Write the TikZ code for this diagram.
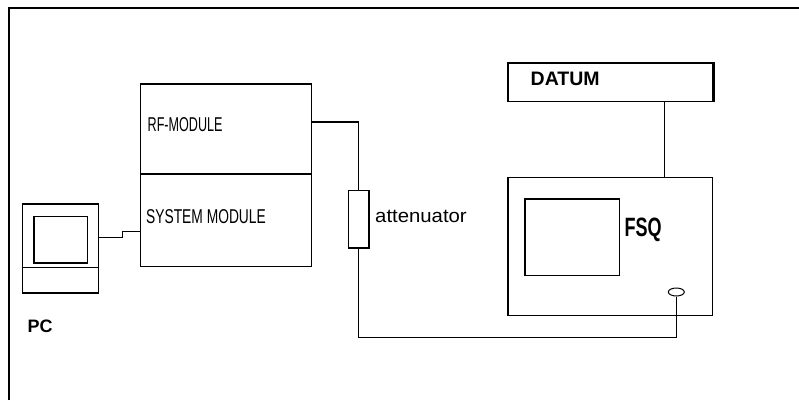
\documentclass[tikz,border=0pt]{standalone}
\usepackage{fontspec}
\setmainfont{Liberation Sans}
\usetikzlibrary{shapes.geometric}
\begin{document}
\begin{tikzpicture}[x=1pt,y=-1pt,
  line width=1.4pt,
  box/.style={draw, inner sep=0pt, anchor=north west},
  lbl/.style={inner sep=0pt, anchor=west},
  wire/.style={draw, line width=1.4pt}]
\useasboundingbox (0,0) rectangle (799,400);
% frame
\draw (9,400) -- (9,8) -- (799,8);
% PC
\node[box, minimum width=76pt, minimum height=89pt] (pc) at (21.7,203.3) {};
\node[box, minimum width=53.4pt, minimum height=46.3pt] (pcscreen) at (33.3,216) {};
\draw (pc.west |- 0,267.7) -- (pc.east |- 0,267.7);
\node[lbl] (pclbl) at (27,326.7) {\fontsize{18}{20}\selectfont\bfseries PC};
% modules
\node[box, minimum width=170.7pt, minimum height=90pt] (rf) at (140,83.3) {};
\node[box, minimum width=170.7pt, minimum height=92.4pt] (sys) at (140,173.3) {};
\node[lbl] (rflbl) at (147,124.5) {\fontsize{20}{22}\selectfont\scalebox{0.63}[1]{RF-MODULE}};
\node[lbl] (syslbl) at (145.5,216.7) {\fontsize{20}{22}\selectfont\scalebox{0.69}[1]{SYSTEM MODULE}};
% attenuator
\node[box, minimum width=20.6pt, minimum height=57.3pt] (att) at (347.7,190) {};
\node[lbl] (attlbl) at (374.5,216.7) {\fontsize{19}{21}\selectfont\scalebox{1.07}[1]{attenuator}};
% DATUM
\node[box, minimum width=204.4pt, minimum height=38.4pt] (datum) at (507.3,62.3) {};
\draw[line width=2.8pt] ([xshift=0.7pt]datum.north east) -- ([xshift=0.7pt]datum.south east);
\node[lbl] (datumlbl) at (530,79) {\fontsize{19.5}{21}\selectfont\bfseries DATUM};
% FSQ
\node[box, minimum width=204.4pt, minimum height=138.3pt] (fsq) at (507.3,176.7) {};
\node[box, minimum width=94.7pt, minimum height=76.7pt] (fsqscreen) at (524.3,198.3) {};
\node[lbl] (fsqlbl) at (624,230) {\fontsize{26.5}{28}\selectfont\bfseries\scalebox{0.68}[1]{FSQ}};
\node[draw, ellipse, line width=1pt, minimum width=16pt, minimum height=8pt, inner sep=0pt] (port) at (676.3,292) {};
% connectors
\coordinate (pcout) at (pc.east |- 0,237.3);
\coordinate (sysin) at (sys.west |- 0,231.7);
\draw[wire] (pcout) -- (122.3,0 |- pcout) |- (sysin);
\coordinate (rfout) at (rf.east |- 0,122);
\draw[wire] (rfout) -| (att.north);
\coordinate (bottom) at (att.south |- 0,337.5);
\draw[wire] (att.south) -- (bottom) -| (port.south);
\draw[wire] (664.3,0 |- datum.south) -- (664.3,0 |- fsq.north);
\end{tikzpicture}
\end{document}
